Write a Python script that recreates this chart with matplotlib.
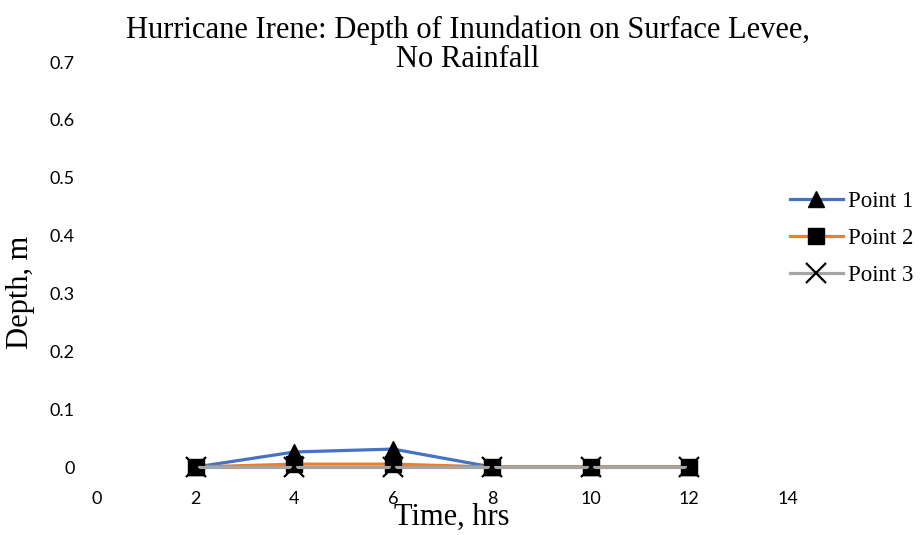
import matplotlib.pyplot as plt

# depth of inundation (m) at each survey point
time_hrs = [2, 4, 6, 8, 10, 12]
point_1 = [0.0, 0.026, 0.031, 0.0, 0.0, 0.0]
point_2 = [0.0, 0.005, 0.005, 0.0, 0.0, 0.0]
point_3 = [0.0, 0.0, 0.0, 0.0, 0.0, 0.0]

x_ticks = [0, 2, 4, 6, 8, 10, 12, 14]
y_ticks = [0, 0.1, 0.2, 0.3, 0.4, 0.5, 0.6, 0.7]
y_tick_labels = ["0", "0.1", "0.2", "0.3", "0.4", "0.5", "0.6", "0.7"]

serif = "Liberation Serif"
tick_font = "Lato"
W, H = 922, 535

fig = plt.figure(figsize=(W / 100, H / 100), dpi=100)
ax = fig.add_axes([97 / W, 1 - 467 / H, 691 / W, 405 / H])

ax.plot(time_hrs, point_1, color="#4472C4", lw=2.3, marker="^", ms=12,
        mfc="black", mec="black", label="Point 1", zorder=3, clip_on=False)
ax.plot(time_hrs, point_2, color="#ED7D31", lw=2.3, marker="s", ms=11,
        mfc="black", mec="black", label="Point 2", zorder=4, clip_on=False)
ax.plot(time_hrs, point_3, color="#A5A5A5", lw=2.3, marker="x", ms=14,
        mew=1.6, mfc="black", mec="black", label="Point 3", zorder=5, clip_on=False)

ax.set_xlim(0, 14)
ax.set_ylim(0, 0.7)
ax.set_xticks(x_ticks)
ax.set_yticks(y_ticks)
ax.set_yticklabels(y_tick_labels)
for s in ax.spines.values():
    s.set_visible(False)
ax.tick_params(length=0, labelsize=13)
ax.tick_params(axis="y", pad=16)
ax.tick_params(axis="x", pad=17)
for lbl in ax.get_xticklabels() + ax.get_yticklabels():
    lbl.set_family(tick_font)

# two-line title, each line placed on its own baseline
fig.text(468 / W, 1 - 38 / H, "Hurricane Irene: Depth of Inundation on Surface Levee,",
         family=serif, fontsize=22, ha="center", va="baseline")
fig.text(468 / W, 1 - 67 / H, "No Rainfall",
         family=serif, fontsize=22, ha="center", va="baseline")

ax.set_xlabel("Time, hrs", family=serif, fontsize=22, va="top")
ax.xaxis.set_label_coords(0.514, -0.089)
ax.set_ylabel("Depth, m", family=serif, fontsize=22)
ax.yaxis.set_label_coords(-0.09, 0.43)

ax.legend(loc="center left", bbox_to_anchor=(1.003, 0.565), frameon=False,
          prop={"family": serif, "size": 16.5}, handlelength=2.3,
          handletextpad=0.22, labelspacing=0.7, borderpad=0, borderaxespad=0)

fig.savefig("out.png", dpi=100)
